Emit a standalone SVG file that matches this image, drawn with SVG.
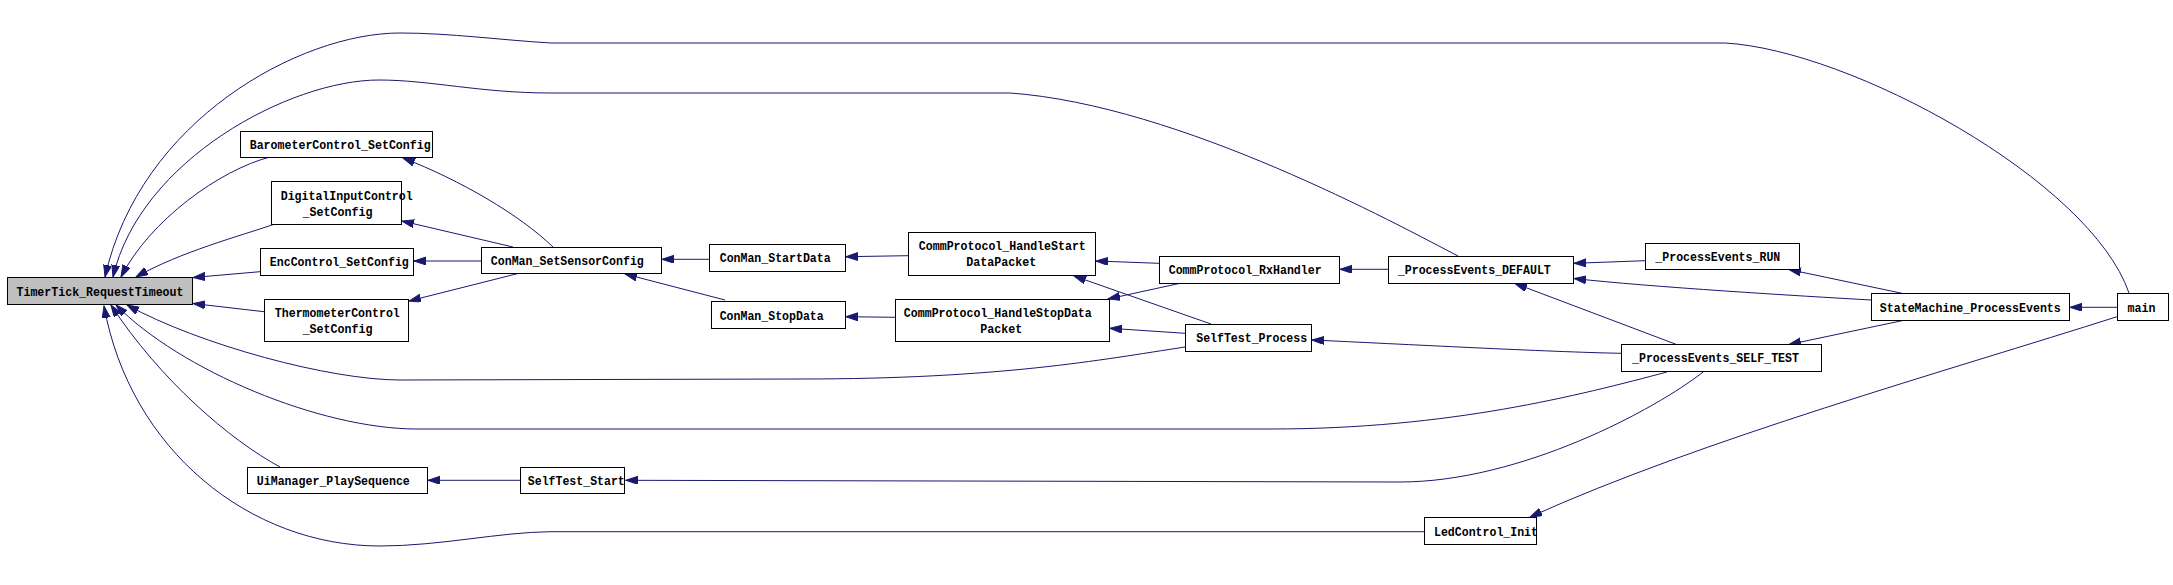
<svg xmlns="http://www.w3.org/2000/svg" width="2173" height="585" viewBox="0 0 2173 585">
<style>
.n rect{fill:#fff;stroke:#000;stroke-width:1}
.n text{font-family:"Liberation Mono","DejaVu Sans Mono",monospace;font-size:13px;font-weight:bold;text-anchor:middle;fill:#000}
.e path{fill:none;stroke:#191970;stroke-width:1;marker-end:url(#ah)}
</style>
<defs>
<marker id="ah" markerUnits="userSpaceOnUse" markerWidth="13" markerHeight="9" refX="12" refY="4" orient="auto" viewBox="0 0 13 9">
<path d="M0,0 L12,4 L0,8 z" fill="#191970" stroke="#191970" stroke-width="1"/>
</marker>
</defs>
<rect width="2173" height="585" fill="#fff"/>
<g id="edges" class="e">
<path d="M2129,293 C2090,180 1850,50 1725,43 L551,43 C500,40 450,33 400,33 C300,33 140,120 105,277"/>
<path d="M1458,256 C1400,226 1180,105 1010,93 L551,93 C480,93 430,80 379,80 C290,80 140,160 113,277"/>
<path d="M270,157 C220,170 150,220 121,277"/>
<path d="M275,224 C240,236 180,252 136,277"/>
<path d="M260,271.7 L193,277.5"/>
<path d="M264,311.7 L193,303.5"/>
<path d="M1185,347 C1100,360 1000,379 800,379 L400,380 C330,380 200,345 127,305"/>
<path d="M1667,372 C1580,395 1450,429 1271,429 L417,429 C320,429 180,370 116,305"/>
<path d="M280,467 C230,440 160,380 111,305"/>
<path d="M1424,531.7 L551,531.7 C500,532 440,546 380,546 C250,546 130,450 104,306"/>
<path d="M553,247 C520,215 460,180 403,158"/>
<path d="M513,247 L402,221"/>
<path d="M481,261 L414,261"/>
<path d="M520,273 L409,301"/>
<path d="M709,259.3 L662,259.3"/>
<path d="M725,300 L625,274"/>
<path d="M908,255.7 L846,256.7"/>
<path d="M895,317.3 L846,316.7"/>
<path d="M1159,263.3 L1096,261"/>
<path d="M1180,283.3 L1108,299"/>
<path d="M1211,324 L1074,276"/>
<path d="M1185,333.3 L1110,328.3"/>
<path d="M1388,269.3 L1340,269.3"/>
<path d="M1645,260.7 L1574,263.3"/>
<path d="M1871,300 C1800,296 1650,287 1574,278.5"/>
<path d="M1902,293.3 L1789,269.5"/>
<path d="M1902,320.7 L1789,344.5"/>
<path d="M1676,344.3 L1515,283.5"/>
<path d="M1621,353.3 C1550,352 1400,344 1312,340"/>
<path d="M2117,307.3 L2070,307.3"/>
<path d="M2117,316.7 C1950,370 1700,440 1530,517"/>
<path d="M520,480.3 L428,480.3"/>
<path d="M1704,371.3 C1655,410 1520,482 1400,482 L626,480.3"/>
</g>
<g id="n_TimerTick_RequestTimeout" class="n"><rect x="7.5" y="277.5" width="185" height="27" style="fill:#bfbfbf"/><text x="100" y="295.5" textLength="167" lengthAdjust="spacingAndGlyphs">TimerTick_RequestTimeout</text></g>
<g id="n_BarometerControl_SetConfig" class="n"><rect x="240.5" y="131.5" width="192" height="26"/><text x="340.2" y="148.5" textLength="181" lengthAdjust="spacingAndGlyphs">BarometerControl_SetConfig</text></g>
<g id="n_DigitalInputControl_SetConfig" class="n"><rect x="271.5" y="181.5" width="130" height="43"/><text x="346.7" y="199.5" textLength="132" lengthAdjust="spacingAndGlyphs">DigitalInputControl</text><text x="337.5" y="215.5" textLength="70" lengthAdjust="spacingAndGlyphs">_SetConfig</text></g>
<g id="n_EncControl_SetConfig" class="n"><rect x="260.5" y="248.5" width="153" height="27"/><text x="339.3" y="265.8" textLength="139" lengthAdjust="spacingAndGlyphs">EncControl_SetConfig</text></g>
<g id="n_ThermometerControl_SetConfig" class="n"><rect x="264.5" y="299.5" width="144" height="42"/><text x="337.3" y="316.8" textLength="125" lengthAdjust="spacingAndGlyphs">ThermometerControl</text><text x="337.5" y="332.5" textLength="70" lengthAdjust="spacingAndGlyphs">_SetConfig</text></g>
<g id="n_UiManager_PlaySequence" class="n"><rect x="247.5" y="467.5" width="180" height="26"/><text x="333.3" y="484.8" textLength="153" lengthAdjust="spacingAndGlyphs">UiManager_PlaySequence</text></g>
<g id="n_ConMan_SetSensorConfig" class="n"><rect x="481.5" y="247.5" width="180" height="26"/><text x="567.3" y="264.8" textLength="153" lengthAdjust="spacingAndGlyphs">ConMan_SetSensorConfig</text></g>
<g id="n_ConMan_StartData" class="n"><rect x="709.5" y="244.5" width="136" height="27"/><text x="775.2" y="261.8" textLength="111" lengthAdjust="spacingAndGlyphs">ConMan_StartData</text></g>
<g id="n_ConMan_StopData" class="n"><rect x="711.5" y="301.5" width="134" height="27"/><text x="771.7" y="319.8" textLength="104" lengthAdjust="spacingAndGlyphs">ConMan_StopData</text></g>
<g id="n_CommProtocol_HandleStartDataPacket" class="n"><rect x="908.5" y="232.5" width="187" height="43"/><text x="1002.3" y="249.5" textLength="167" lengthAdjust="spacingAndGlyphs">CommProtocol_HandleStart</text><text x="1001.3" y="265.5" textLength="70" lengthAdjust="spacingAndGlyphs">DataPacket</text></g>
<g id="n_CommProtocol_HandleStopDataPacket" class="n"><rect x="895.5" y="299.5" width="214" height="42"/><text x="997.8" y="316.8" textLength="188" lengthAdjust="spacingAndGlyphs">CommProtocol_HandleStopData</text><text x="1001.3" y="332.5" textLength="42" lengthAdjust="spacingAndGlyphs">Packet</text></g>
<g id="n_CommProtocol_RxHandler" class="n"><rect x="1159.5" y="256.5" width="180" height="27"/><text x="1245.2" y="273.5" textLength="153" lengthAdjust="spacingAndGlyphs">CommProtocol_RxHandler</text></g>
<g id="n_SelfTest_Process" class="n"><rect x="1185.5" y="324.5" width="126" height="27"/><text x="1251.7" y="341.5" textLength="111" lengthAdjust="spacingAndGlyphs">SelfTest_Process</text></g>
<g id="n_ProcessEvents_DEFAULT" class="n"><rect x="1388.5" y="256.5" width="185" height="27"/><text x="1474.3" y="273.8" textLength="153" lengthAdjust="spacingAndGlyphs">_ProcessEvents_DEFAULT</text></g>
<g id="n_ProcessEvents_RUN" class="n"><rect x="1645.5" y="243.5" width="154" height="26"/><text x="1717.8" y="260.8" textLength="125" lengthAdjust="spacingAndGlyphs">_ProcessEvents_RUN</text></g>
<g id="n_ProcessEvents_SELF_TEST" class="n"><rect x="1621.5" y="344.5" width="200" height="27"/><text x="1715.5" y="361.5" textLength="167" lengthAdjust="spacingAndGlyphs">_ProcessEvents_SELF_TEST</text></g>
<g id="n_StateMachine_ProcessEvents" class="n"><rect x="1871.5" y="293.5" width="198" height="27"/><text x="1970.3" y="311.5" textLength="181" lengthAdjust="spacingAndGlyphs">StateMachine_ProcessEvents</text></g>
<g id="n_main" class="n"><rect x="2117.5" y="293.5" width="51" height="27"/><text x="2141.5" y="311.5" textLength="28" lengthAdjust="spacingAndGlyphs">main</text></g>
<g id="n_SelfTest_Start" class="n"><rect x="520.5" y="467.5" width="104" height="26"/><text x="576.3" y="484.8" textLength="97" lengthAdjust="spacingAndGlyphs">SelfTest_Start</text></g>
<g id="n_LedControl_Init" class="n"><rect x="1424.5" y="517.5" width="112" height="27"/><text x="1486" y="535.8" textLength="104" lengthAdjust="spacingAndGlyphs">LedControl_Init</text></g>
</svg>
